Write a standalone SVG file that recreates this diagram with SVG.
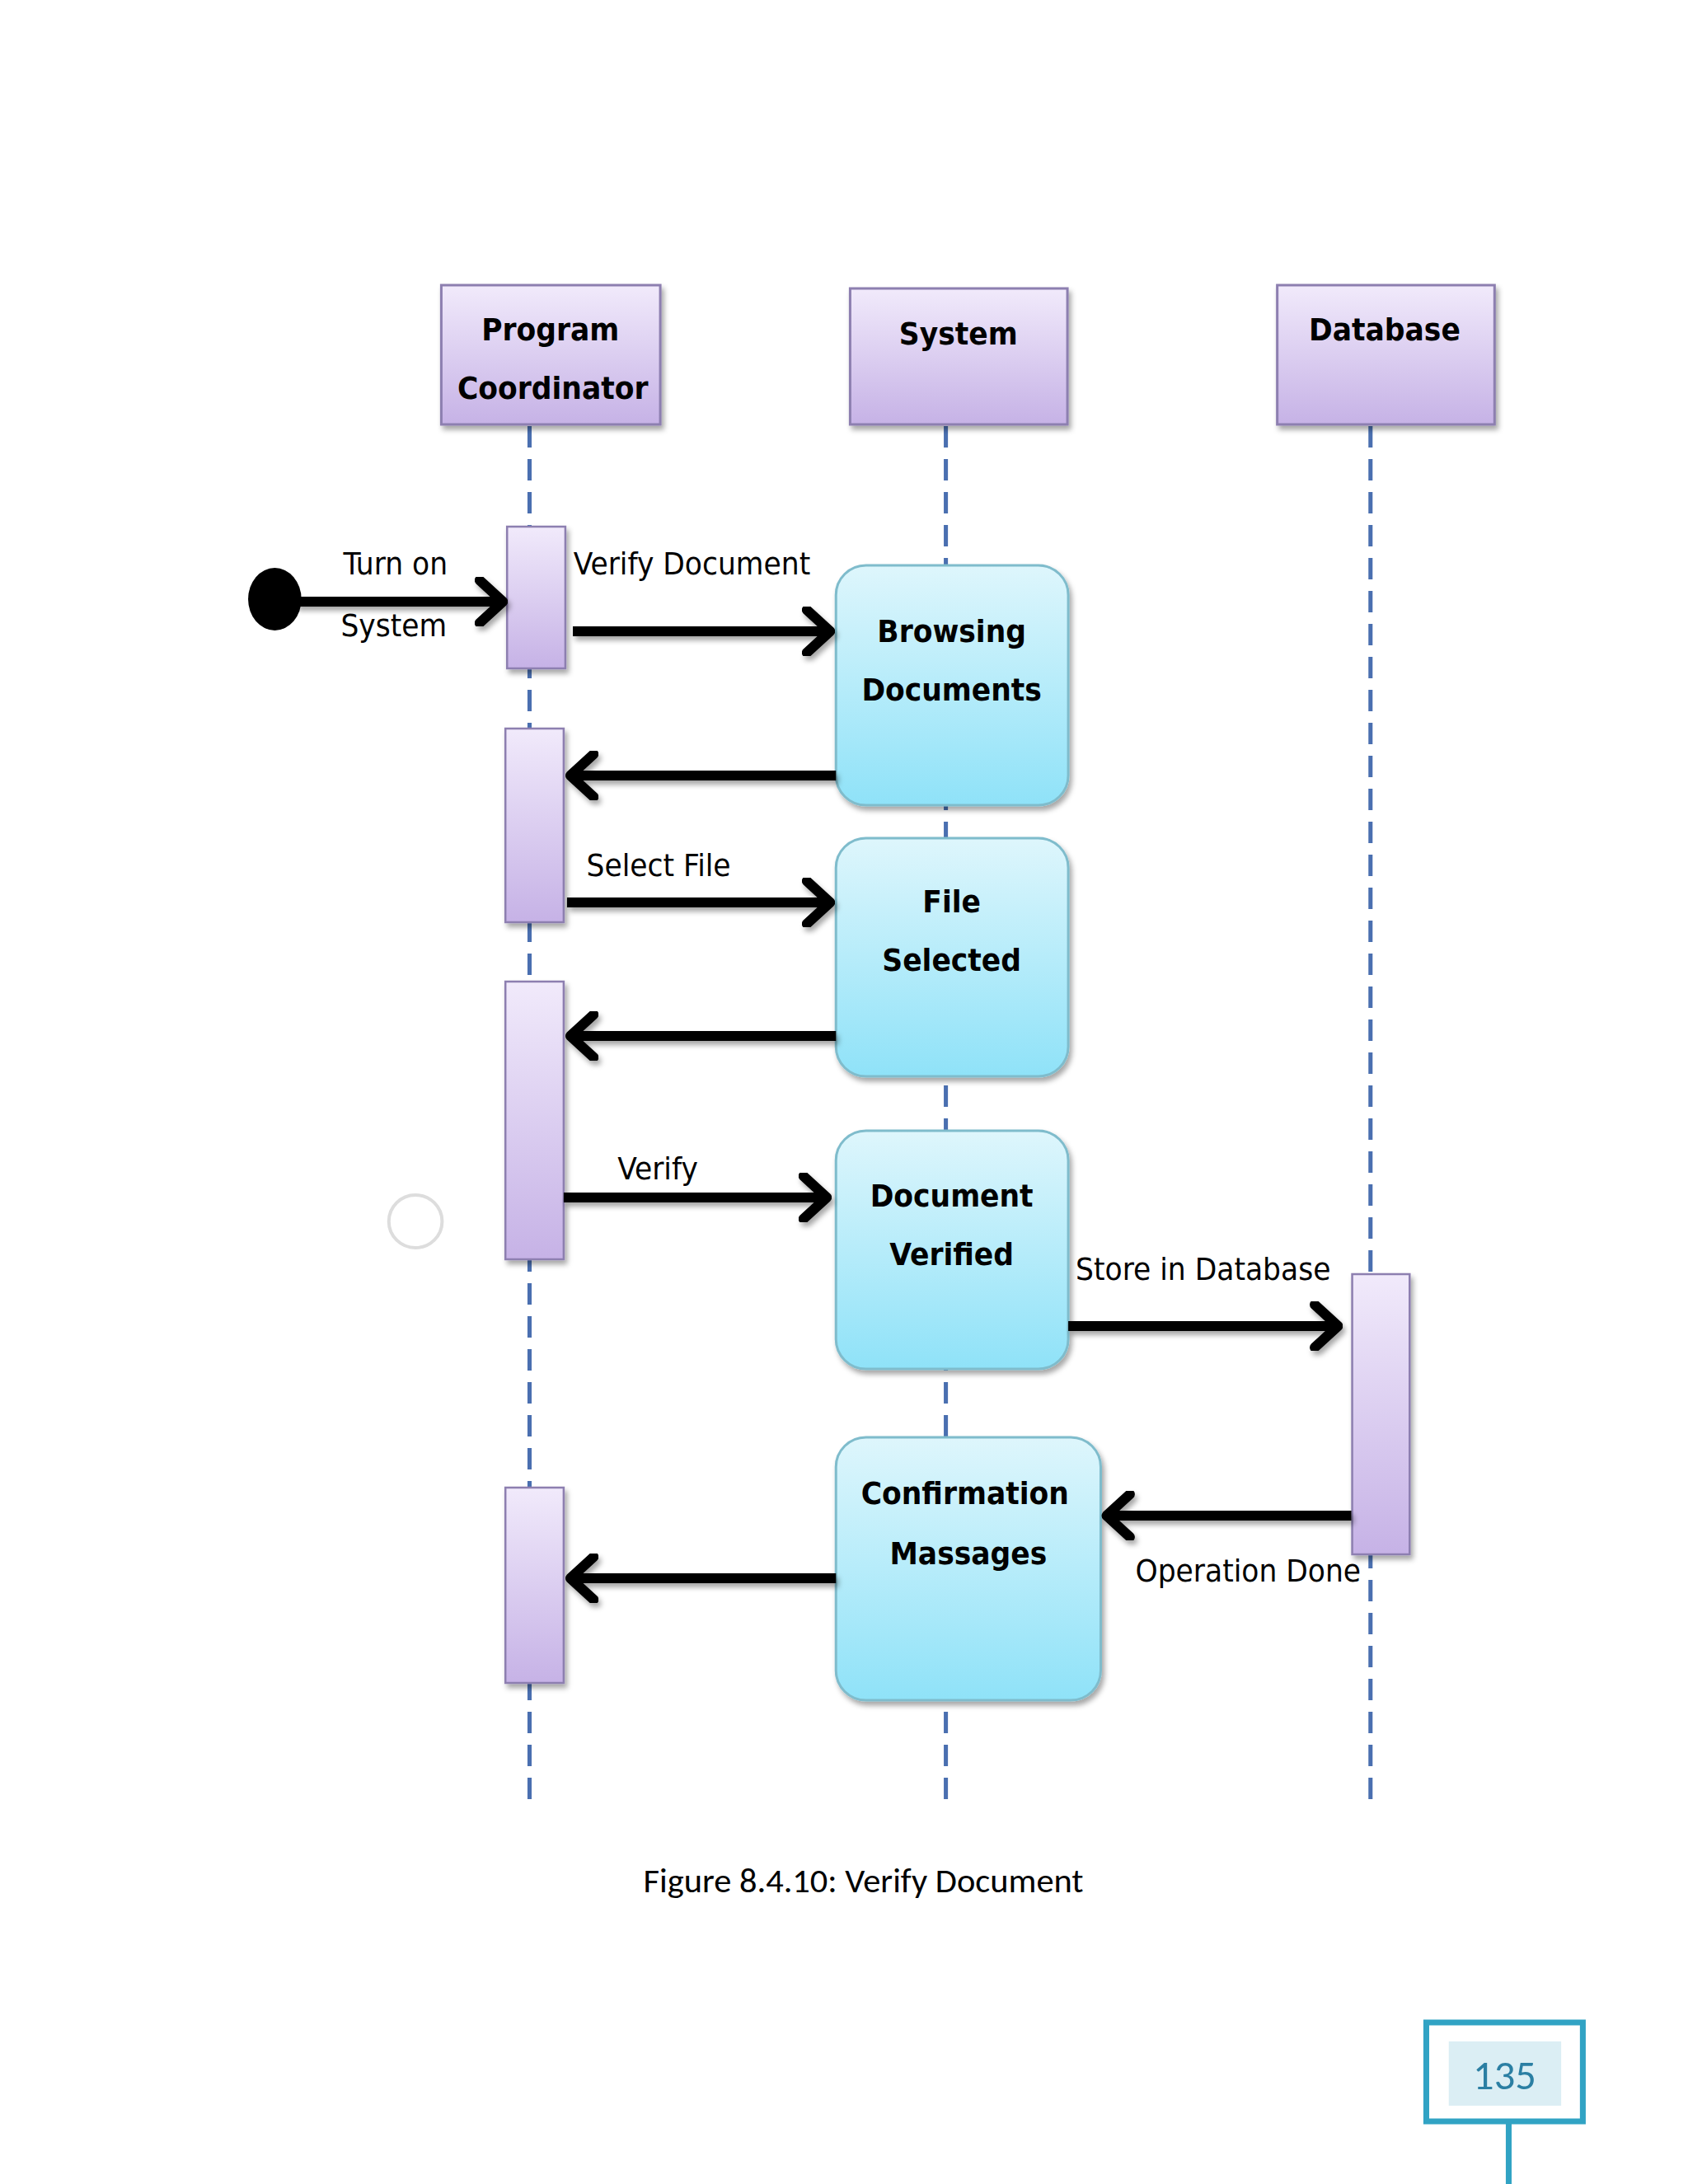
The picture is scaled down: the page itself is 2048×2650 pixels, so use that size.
<svg xmlns="http://www.w3.org/2000/svg" width="2048" height="2650" viewBox="0 0 2048 2650">
<defs>
<linearGradient id="pg" x1="0" y1="0" x2="0" y2="1"><stop offset="0" stop-color="#f1eafb"/><stop offset="1" stop-color="#c6b2e6"/></linearGradient>
<linearGradient id="bg" x1="0" y1="0" x2="0" y2="1"><stop offset="0" stop-color="#def6fc"/><stop offset="1" stop-color="#8fe2f8"/></linearGradient>
<marker id="ah" viewBox="0 0 40 60" refX="36" refY="30" markerWidth="40" markerHeight="60" markerUnits="userSpaceOnUse" orient="auto"><polyline points="6,4 34,30 6,56" fill="none" stroke="#000" stroke-width="12" stroke-linecap="round" stroke-linejoin="round"/></marker>
<filter id="sh" x="-20%" y="-20%" width="140%" height="140%"><feDropShadow dx="3" dy="5" stdDeviation="3" flood-color="#000" flood-opacity="0.35"/></filter>
<filter id="ash" filterUnits="userSpaceOnUse" x="0" y="0" width="2048" height="2650"><feDropShadow dx="3" dy="5" stdDeviation="3" flood-color="#000" flood-opacity="0.35"/></filter>
</defs>
<style>
.hd{fill:url(#pg);stroke:#8d7fb0;stroke-width:3;filter:url(#sh)}
.act{fill:url(#pg);stroke:#8d7fb0;stroke-width:2.5;filter:url(#sh)}
.st{fill:url(#bg);stroke:#7fbccc;stroke-width:3;filter:url(#sh)}
.ll{stroke:#4a6fb0;stroke-width:5;stroke-dasharray:26,14;fill:none}
.ar{stroke:#000;stroke-width:12;fill:none;marker-end:url(#ah)}
.bt{font-family:"DejaVu Sans Condensed","Liberation Sans",sans-serif;font-weight:bold;font-size:38px;text-anchor:middle;fill:#000}
.lb{font-family:"DejaVu Sans Condensed","Liberation Sans",sans-serif;font-size:38px;text-anchor:middle;fill:#000}
</style>
<rect width="2048" height="2650" fill="#fff"/>
<g transform="scale(1.0102,1)">
<g id="lifelines">
<line class="ll" x1="636" y1="517" x2="636" y2="2192"/>
<line class="ll" x1="1136" y1="517" x2="1136" y2="2192"/>
<line class="ll" x1="1646" y1="517" x2="1646" y2="2192"/>
</g>
<g id="pc"><rect class="hd" x="530" y="346" width="263" height="169"/><text class="bt" x="661" y="413">Program</text><text class="bt" x="664" y="484">Coordinator</text></g>
<g id="sys"><rect class="hd" x="1021" y="350" width="261" height="165"/><text class="bt" x="1151" y="418">System</text></g>
<g id="db"><rect class="hd" x="1534" y="346" width="261" height="169"/><text class="bt" x="1663" y="413">Database</text></g>
<g id="activations">
<rect class="act" x="609" y="639" width="70" height="172"/>
<rect class="act" x="607" y="884" width="70" height="235"/>
<rect class="act" x="607" y="1191" width="70" height="337"/>
<rect class="act" x="607" y="1805" width="70" height="237"/>
<rect class="act" x="1624" y="1546" width="69" height="340"/>
</g>
<g id="browsing"><rect class="st" x="1004" y="686" width="279" height="291" rx="36"/><text class="bt" x="1143" y="779">Browsing</text><text class="bt" x="1143" y="850">Documents</text></g>
<g id="fileSelected"><rect class="st" x="1004" y="1017" width="279" height="289" rx="36"/><text class="bt" x="1143" y="1107">File</text><text class="bt" x="1143" y="1178">Selected</text></g>
<g id="docVerified"><rect class="st" x="1004" y="1372" width="279" height="289" rx="36"/><text class="bt" x="1143" y="1464">Document</text><text class="bt" x="1143" y="1535">Verified</text></g>
<g id="confirm"><rect class="st" x="1004" y="1744" width="318" height="319" rx="36"/><text class="bt" x="1159" y="1825">Confirmation</text><text class="bt" x="1163" y="1898">Massages</text></g>
<g id="start"><ellipse cx="330" cy="727" rx="32" ry="38" fill="#000"/></g>
<circle cx="499" cy="1482" r="32" fill="none" stroke="#ddd" stroke-width="4"/>
<g id="connectors" filter="url(#ash)">
<line class="ar" x1="355" y1="730" x2="606" y2="730"/>
<line class="ar" x1="688" y1="766" x2="999" y2="766"/>
<line class="ar" x1="1004" y1="941" x2="683" y2="941"/>
<line class="ar" x1="681" y1="1095" x2="999" y2="1095"/>
<line class="ar" x1="1004" y1="1257" x2="683" y2="1257"/>
<line class="ar" x1="677" y1="1453" x2="995" y2="1453"/>
<line class="ar" x1="1283" y1="1609" x2="1609" y2="1609"/>
<line class="ar" x1="1623" y1="1839" x2="1327" y2="1839"/>
<line class="ar" x1="1004" y1="1915" x2="683" y2="1915"/>
</g>
<g id="labels">
<text class="lb" x="475" y="697">Turn on</text>
<text class="lb" x="473" y="772">System</text>
<text class="lb" x="831" y="697">Verify Document</text>
<text class="lb" x="791" y="1063">Select File</text>
<text class="lb" x="790" y="1431">Verify</text>
<text class="lb" x="1445" y="1553">Store in Database</text>
<text class="lb" x="1499" y="1919">Operation Done</text>
</g>
<text x="1037" y="2296" font-family="Carlito,'Liberation Sans',sans-serif" font-size="42" text-anchor="middle" fill="#000">Figure 8.4.10: Verify Document</text>
<g id="page">
<line x1="1812" y1="2574" x2="1812" y2="2650" stroke="#31a3c4" stroke-width="7"/>
<rect x="1713" y="2454" width="188" height="120" fill="#fff" stroke="#31a3c4" stroke-width="7"/>
<rect x="1740" y="2477" width="135" height="78" fill="#dbeef4"/>
<text x="1807" y="2535" font-family="Carlito,'Liberation Sans',sans-serif" font-size="50" text-anchor="middle" fill="#2b7fa3">135</text>
</g>
</g>
</svg>
